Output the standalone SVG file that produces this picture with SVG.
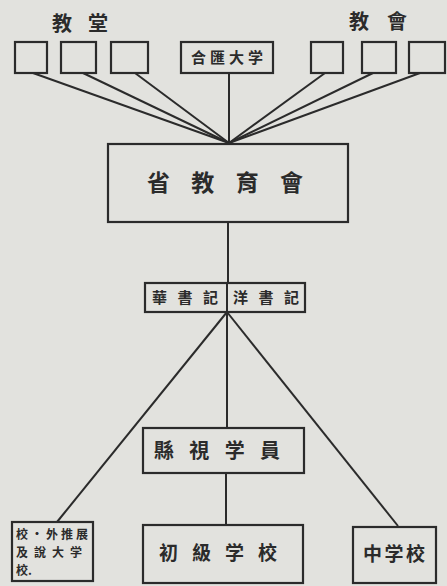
<svg xmlns="http://www.w3.org/2000/svg" width="447" height="586" viewBox="0 0 447 586">
<style>
.box{fill:none;stroke:#2b2b2b;stroke-width:2.2}
.ln{fill:none;stroke:#2b2b2b;stroke-width:2}
text{font-family:"Noto Sans CJK TC","Noto Sans CJK SC",sans-serif;fill:#2b2b2b;font-weight:bold}
</style>
<rect width="447" height="586" fill="#e2e2de"/>
<g id="connectors">
<line class="ln" x1="33" y1="73" x2="229" y2="143"/>
<line class="ln" x1="83" y1="73" x2="229" y2="143"/>
<line class="ln" x1="135" y1="73" x2="229" y2="143"/>
<line class="ln" x1="229" y1="73" x2="229" y2="143"/>
<line class="ln" x1="325" y1="73" x2="229" y2="143"/>
<line class="ln" x1="373" y1="73" x2="229" y2="143"/>
<line class="ln" x1="420" y1="73" x2="229" y2="143"/>
<line class="ln" x1="228" y1="222" x2="228" y2="283"/>
<line class="ln" x1="227" y1="312" x2="57" y2="522"/>
<line class="ln" x1="227" y1="312" x2="398" y2="526"/>
<line class="ln" x1="227" y1="312" x2="227" y2="428"/>
<line class="ln" x1="226" y1="473" x2="226" y2="525"/>
</g>
<g id="label-jiaotang"><text x="80" y="31" font-size="20" text-anchor="middle" textLength="56" lengthAdjust="spacing">教堂</text></g>
<g id="label-jiaohui"><text x="378" y="29" font-size="20" text-anchor="middle" textLength="58" lengthAdjust="spacing">教會</text></g>
<g id="church1"><rect class="box" x="15" y="42" width="32" height="31"/></g>
<g id="church2"><rect class="box" x="61" y="42" width="35" height="31"/></g>
<g id="church3"><rect class="box" x="111" y="42" width="37" height="31"/></g>
<g id="university"><rect class="box" x="181" y="42" width="92" height="31"/><text x="227" y="63" font-size="15" text-anchor="middle" textLength="72" lengthAdjust="spacing">合匯大学</text></g>
<g id="mission1"><rect class="box" x="311" y="42" width="32" height="31"/></g>
<g id="mission2"><rect class="box" x="362" y="42" width="34" height="31"/></g>
<g id="mission3"><rect class="box" x="409" y="42" width="36" height="31"/></g>
<g id="provincial"><rect class="box" x="108" y="144" width="240" height="78"/><text x="225" y="191" font-size="23" text-anchor="middle" textLength="156" lengthAdjust="spacing">省教育會</text></g>
<g id="secretaries"><rect class="box" x="145" y="283" width="160" height="29"/><line class="ln" x1="227" y1="283" x2="227" y2="312"/><text x="185" y="303" font-size="15" text-anchor="middle" textLength="66" lengthAdjust="spacing">華書記</text><text x="266" y="303" font-size="15" text-anchor="middle" textLength="66" lengthAdjust="spacing">洋書記</text></g>
<g id="inspectors"><rect class="box" x="143" y="428" width="161" height="45"/><text x="217" y="458" font-size="20" text-anchor="middle" textLength="126" lengthAdjust="spacing">縣視学員</text></g>
<g id="other-schools"><rect class="box" x="12" y="522" width="81" height="59"/><text font-size="12"><tspan x="16" y="539" textLength="72" lengthAdjust="spacing">校·外推展</tspan><tspan x="16" y="557" textLength="66" lengthAdjust="spacing">及說大学</tspan><tspan x="16" y="575">校.</tspan></text></g>
<g id="primary"><rect class="box" x="143" y="525" width="160" height="58"/><text x="218" y="560" font-size="19" text-anchor="middle" textLength="118" lengthAdjust="spacing">初級学校</text></g>
<g id="middle"><rect class="box" x="353" y="527" width="83" height="56"/><text x="394" y="561" font-size="19" text-anchor="middle" textLength="62" lengthAdjust="spacing">中学校</text></g>
</svg>
